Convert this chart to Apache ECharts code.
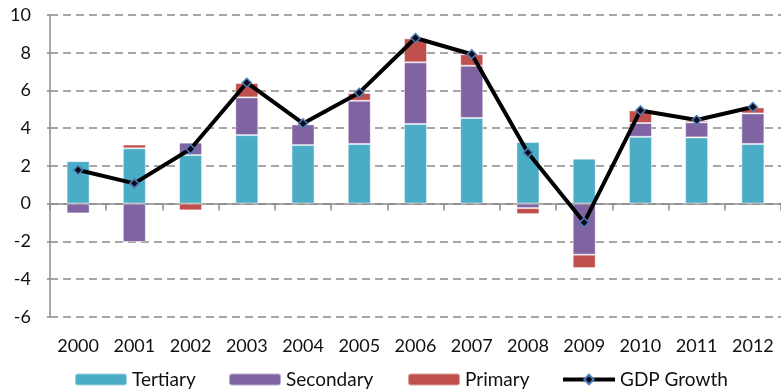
<!DOCTYPE html>
<html>
<head>
<meta charset="utf-8">
<script src="https://cdn.jsdelivr.net/npm/echarts@6/dist/echarts.min.js"></script>
<style>
  html, body { margin: 0; padding: 0; background: #fff; }
  #chart { width: 781px; height: 389px; }
</style>
</head>
<body>
<div id="chart"></div>
<script>
// Contributions to GDP growth by sector, percentage points
const years = ['2000','2001','2002','2003','2004','2005','2006','2007','2008','2009','2010','2011','2012'];
const tertiary  = [2.25, 2.93, 2.57, 3.63, 3.10, 3.16, 4.22, 4.54, 3.26, 2.38, 3.54, 3.51, 3.16];
const secondary = [-0.52, -2.04, 0.66, 2.00, 1.10, 2.29, 3.27, 2.77, -0.24, -2.71, 0.73, 0.80, 1.62];
const primary   = [0.05, 0.20, -0.36, 0.76, 0.05, 0.41, 1.27, 0.61, -0.32, -0.71, 0.67, 0.10, 0.32];
const gdpGrowth = [1.78, 1.07, 2.89, 6.41, 4.25, 5.88, 8.78, 7.92, 2.70, -1.00, 4.94, 4.43, 5.12];
const yTicks = { min: -6, max: 10, step: 2 };

const font = 'Lato, "Open Sans", sans-serif';
const textColor = '#111';
const fontSize = 18;

const barSeries = (name, data, color) => ({
  name, type: 'bar', stack: 'sector', data, barWidth: 23,
  xAxisIndex: 0,
  itemStyle: { color, borderColor: 'rgba(255,255,255,0.45)', borderWidth: 1 }
});

// one legend block per entry so each sits at its own horizontal slot
const legendEntry = (item, left) => ({
  bottom: 0, left, padding: 0,
  itemWidth: 52, itemHeight: 12,
  textStyle: { color: textColor, fontSize: 19, fontFamily: font },
  data: [item]
});

const chart = echarts.init(document.getElementById('chart'), null, { renderer: 'canvas' });
chart.setOption({
  animation: false,
  backgroundColor: '#fff',
  grid: { left: 50, right: -7.5, top: 15, bottom: 72.3, containLabel: false },
  xAxis: [
    {
      type: 'category', data: years,
      axisLine: { onZero: true, lineStyle: { color: '#8c8c8c', width: 1.5 } },
      axisTick: { show: true, length: 7, inside: false, lineStyle: { color: '#8c8c8c', width: 1.5 } },
      axisLabel: { show: false },
      splitLine: { show: false }
    },
    {
      type: 'category', data: years, position: 'bottom',
      axisLine: { show: false, onZero: false },
      axisTick: { show: false },
      axisLabel: { show: true, margin: 20, color: textColor, fontSize, fontFamily: font },
      splitLine: { show: false }
    }
  ],
  yAxis: {
    type: 'value', min: yTicks.min, max: yTicks.max, interval: yTicks.step,
    axisLine: { show: true, lineStyle: { color: '#8c8c8c', width: 1.5 } },
    axisTick: { show: true, length: 3, lineStyle: { color: '#8c8c8c', width: 1.5 } },
    axisLabel: { color: textColor, fontSize, fontFamily: font, margin: 19 },
    splitLine: { show: true, lineStyle: { color: '#a6a6a6', width: 2, type: [8, 5] } }
  },
  legend: [
    legendEntry('Tertiary', 74),
    legendEntry('Secondary', 228),
    legendEntry('Primary', 407),
    legendEntry({ name: 'GDP Growth', lineStyle: { width: 4, color: '#000' } }, 561)
  ],
  series: [
    barSeries('Tertiary', tertiary, '#4BACC6'),
    barSeries('Secondary', secondary, '#8064A2'),
    barSeries('Primary', primary, '#C0504D'),
    {
      name: 'GDP Growth', type: 'line', data: gdpGrowth, xAxisIndex: 0,
      z: 5,
      lineStyle: { color: '#000', width: 4 },
      symbol: 'diamond', symbolSize: 9,
      itemStyle: { color: '#0b0b1a', borderColor: '#4A7EBB', borderWidth: 1.5 }
    }
  ]
});
</script>
</body>
</html>
